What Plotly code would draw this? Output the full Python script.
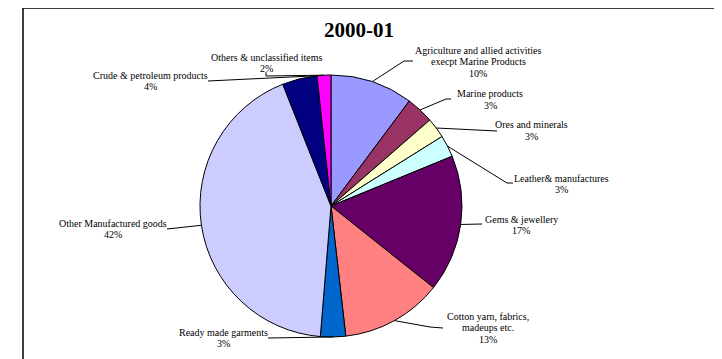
import math
import plotly.graph_objects as go

# ---- data ----
categories = [
    "Agriculture and allied activities execpt Marine Products",
    "Marine products",
    "Ores and minerals",
    "Leather& manufactures",
    "Gems & jewellery",
    "Cotton yarn, fabrics, madeups etc.",
    "Ready made garments",
    "Other Manufactured goods",
    "Crude & petroleum products",
    "Others & unclassified items",
]
shares = [10.2, 3.4, 2.5, 2.7, 16.9, 12.5, 3.1, 42.7, 4.3, 1.7]
label_lines = [
    ["Agriculture and allied activities", "execpt Marine Products", "10%"],
    ["Marine products", "3%"],
    ["Ores and minerals", "3%"],
    ["Leather& manufactures", "3%"],
    ["Gems & jewellery", "17%"],
    ["Cotton yarn, fabrics,", "madeups etc.", "13%"],
    ["Ready made garments", "3%"],
    ["Other Manufactured goods", "42%"],
    ["Crude & petroleum products", "4%"],
    ["Others & unclassified items", "2%"],
]
colors = ["#9999FF", "#993366", "#FFFFCC", "#CCFFFF", "#660066",
          "#FF8080", "#0066CC", "#CCCCFF", "#000080", "#FF00FF"]
title_text = "2000-01"

# ---- layout geometry (window pixels) ----
OFF = 8                      # default page body margin
W, H = 722 - OFF, 359 - OFF  # figure size so the page does not overflow
CX, CY, R = 331, 206, 131
FONT = "Liberation Serif, Times New Roman, serif"

# label placement: (center x, first line y), leader start, elbow, anchor ('mid' or 'end')
label_pos = [
    (478, 50, (413, 61), (404, 61), "mid"),
    (490, 94, (451, 99), (446, 99), "mid"),
    (531, 125, (497, 131), (497, 131), "mid"),
    (561, 178, (513, 183), (507, 183), "mid"),
    (521, 219, (482, 224), (482, 224), "mid"),
    (488, 316, (443, 328), (430, 327), "mid"),
    (224, 332, (268, 338), (268, 338), "mid"),
    (113, 223, (167, 229), (167, 229), "mid"),
    (150, 75, (208, 81), (208, 81), "end"),
    (266, 57, (266, 72), (266, 76), "mid"),
]
LINE_H = 11.8


def px(x):
    return (x - OFF) / W


def py(y):
    return 1 - (y - OFF) / H


fig = go.Figure(go.Pie(
    labels=categories,
    values=shares,
    sort=False,
    direction="clockwise",
    rotation=0,
    marker=dict(colors=colors, line=dict(color="black", width=1)),
    textinfo="none",
    textposition="none",
    hoverinfo="label+percent",
    showlegend=False,
    domain=dict(x=[px(CX - R), px(CX + R)], y=[py(CY + R), py(CY - R)]),
))

annotations = []
shapes = []
total = sum(shares)
cum = 0.0
for i, v in enumerate(shares):
    start = cum
    cum += v
    lx, ly, s, e, mode = label_pos[i]
    frac = (start + v / 2) / total if mode == "mid" else cum / total
    th = 2 * math.pi * frac
    p = (CX + R * math.sin(th), CY - R * math.cos(th))
    for k, t in enumerate(label_lines[i]):
        annotations.append(dict(
            x=px(lx), y=py(ly + k * LINE_H), xref="paper", yref="paper",
            text=t, showarrow=False, xanchor="center", yanchor="middle",
            font=dict(family=FONT, size=10, color="black")))
    path = f"M {px(s[0])},{py(s[1])} L {px(e[0])},{py(e[1])} L {px(p[0])},{py(p[1])}"
    shapes.append(dict(type="path", xref="paper", yref="paper", path=path,
                       line=dict(color="black", width=1)))

annotations.append(dict(
    x=px(359), y=py(30), xref="paper", yref="paper",
    text=f"<b>{title_text}</b>", showarrow=False, xanchor="center", yanchor="middle",
    font=dict(family=FONT, size=21, color="black")))

# chart frame
shapes.append(dict(type="rect", xref="paper", yref="paper",
                   x0=px(23), x1=px(716.5), y0=-0.2, y1=py(8),
                   line=dict(color="black", width=1.5), layer="below"))

fig.update_layout(
    width=W, height=H,
    margin=dict(l=0, r=0, t=0, b=0),
    paper_bgcolor="white", plot_bgcolor="white",
    annotations=annotations, shapes=shapes,
)

fig.write_html("out.html")
